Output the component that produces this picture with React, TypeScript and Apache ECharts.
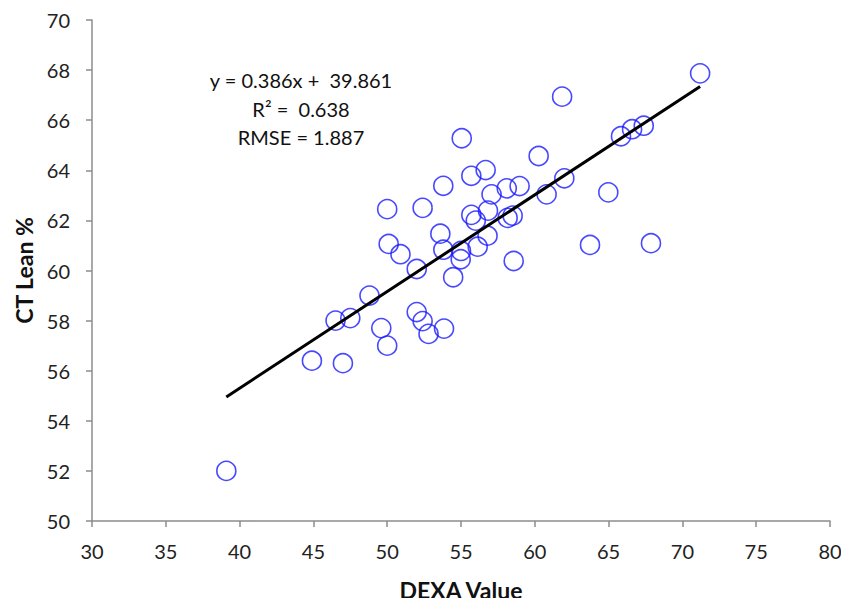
import React, { useEffect, useRef } from "react";
import * as echarts from "echarts";

const dexaValues = [
  39.1, 44.9, 47.0, 46.5, 47.5, 48.8, 49.6, 50.0, 50.0, 50.1, 50.9, 52.0, 52.0, 52.4, 52.8, 52.4,
  53.6, 53.8, 53.8, 53.85, 54.47, 54.98, 55.0, 55.05, 55.7, 55.7, 56.0, 56.13, 56.67, 56.8, 56.83,
  57.07, 58.1, 58.16, 58.5, 58.57, 58.97, 60.26, 60.8, 61.85, 62.0, 63.74, 64.98, 65.84, 66.59,
  67.38, 67.87, 71.2,
];
const ctLeanValues = [
  52.0, 56.4, 56.3, 58.0, 58.1, 59.0, 57.7, 57.0, 62.45, 61.06, 60.65, 60.06, 58.34, 57.98, 57.47, 62.5,
  61.47, 63.38, 60.83, 57.68, 59.73, 60.45, 60.78, 65.28, 63.78, 62.22, 61.99, 60.95, 64.01, 61.39, 62.39,
  63.04, 63.28, 62.1, 62.19, 60.38, 63.37, 64.57, 63.04, 66.94, 63.68, 61.02, 63.12, 65.36, 65.64,
  65.78, 61.09, 67.87,
];
const trendSlope = 0.386;
const trendIntercept = 39.861;
const trendX = [39.1, 71.2];
const annotationLines = ["y = 0.386x +  39.861", "R\u00b2 =  0.638", "RMSE = 1.887"];

export default function App() {
  const ref = useRef<HTMLDivElement>(null);
  useEffect(() => {
    if (!ref.current) return;
    const chart = echarts.init(ref.current, null, { renderer: "svg" });
    const font = "Lato, Open Sans, sans-serif";
    const points = dexaValues.map((x, i) => [x, ctLeanValues[i]]);
    const trend = trendX.map((x) => [x, trendSlope * x + trendIntercept]);
    chart.setOption({
      animation: false,
      backgroundColor: "#ffffff",
      grid: { left: 92, right: 19, top: 20, bottom: 85, containLabel: false, outerBoundsMode: "none" },
      xAxis: {
        type: "value",
        min: 30,
        max: 80,
        interval: 5,
        name: "DEXA Value",
        nameLocation: "middle",
        nameGap: 57,
        nameTextStyle: { fontFamily: font, fontWeight: "bold", fontSize: 23, color: "#111" },
        axisLine: { show: true, lineStyle: { color: "#8c8c8c", width: 1.5 } },
        axisTick: { show: true, length: 6, lineStyle: { color: "#8c8c8c", width: 1.5 } },
        axisLabel: { fontFamily: font, fontSize: 20, color: "#222", margin: 20 },
        splitLine: { show: false },
      },
      yAxis: {
        type: "value",
        min: 50,
        max: 70,
        interval: 2,
        name: "CT Lean %",
        nameLocation: "middle",
        nameGap: 56,
        nameRotate: 90,
        nameTextStyle: { fontFamily: font, fontWeight: "bold", fontSize: 23, color: "#111" },
        axisLine: { show: true, lineStyle: { color: "#8c8c8c", width: 1.5 } },
        axisTick: { show: true, length: 6, lineStyle: { color: "#8c8c8c", width: 1.5 } },
        axisLabel: { fontFamily: font, fontSize: 20, color: "#222", margin: 22 },
        splitLine: { show: false },
      },
      series: [
        {
          type: "scatter",
          data: points,
          symbol: "circle",
          symbolSize: 19,
          itemStyle: { color: "rgba(0,0,0,0)", borderColor: "#1a1aff", borderWidth: 1.6 },
          z: 2,
        },
        {
          type: "line",
          data: trend,
          showSymbol: false,
          symbol: "none",
          lineStyle: { color: "#000", width: 3 },
          z: 3,
        },
      ],
      graphic: annotationLines.map((t, i) => ({
        type: "text",
        x: 301,
        y: 80 + i * 28.5,
        style: {
          text: t,
          fontFamily: font,
          fontSize: 20,
          fill: "#111",
          textAlign: "center",
          textVerticalAlign: "middle",
        },
      })),
    });
    return () => chart.dispose();
  }, []);
  return <div ref={ref} style={{ width: 849, height: 606, margin: -8 }} />;
}
